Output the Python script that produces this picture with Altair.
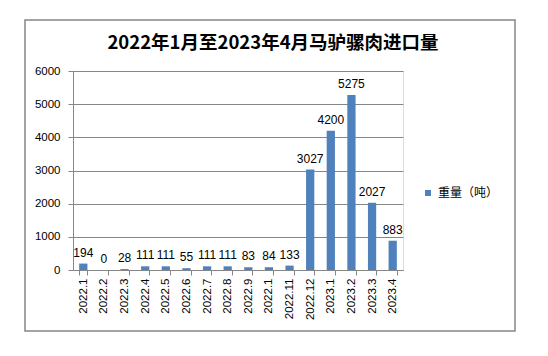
import json
import altair as alt
import pandas as pd

months = ["2022.1", "2022.2", "2022.3", "2022.4", "2022.5", "2022.6", "2022.7", "2022.8",
          "2022.9", "2022.1", "2022.11", "2022.12", "2023.1", "2023.2", "2023.3", "2023.4"]
weights = [194, 0, 28, 111, 111, 55, 111, 111, 83, 84, 133, 3027, 4200, 5275, 2027, 883]
series_name = "重量（吨）"
title_text = "2022年1月至2023年4月马驴骡肉进口量"
y_ticks = [0, 1000, 2000, 3000, 4000, 5000, 6000]

df = pd.DataFrame({"idx": list(range(len(months))), "weight": weights, "series": series_name})

label_expr = json.dumps(months) + "[datum.value]"

base = alt.Chart(df).encode(
    x=alt.X("idx:O", title=None,
            axis=alt.Axis(labelExpr=label_expr, labelAngle=270, labelFont="Liberation Sans",
                          labelFontSize=11.5, labelColor="#000", tickBand="extent",
                          tickColor="#868686", tickSize=5, domainColor="#868686",
                          labelPadding=3, grid=False),
            scale=alt.Scale(paddingInner=0.6, paddingOuter=0.3)),
    y=alt.Y("weight:Q", title=None,
            scale=alt.Scale(domain=[0, 6000], nice=False),
            axis=alt.Axis(values=y_ticks, format="d", labelOverlap=False,
                          labelFont="Liberation Sans", labelFontSize=11.5, labelColor="#000",
                          gridColor="#868686", tickColor="#868686", domainColor="#868686",
                          tickSize=5, labelPadding=8)),
)

bars = base.mark_bar(color="#4F81BD").encode(
    color=alt.Color("series:N", title=None,
                    scale=alt.Scale(range=["#4F81BD"]),
                    legend=alt.Legend(orient="none", legendX=349, legendY=116,
                                      symbolType="square", symbolSize=36,
                                      labelFont="Noto Sans CJK SC", labelFontSize=12,
                                      labelColor="#000", symbolStrokeWidth=0)),
)

labels = base.mark_text(baseline="bottom", dy=-4, font="Liberation Sans", fontSize=12,
                        color="#000").encode(
    text=alt.Text("weight:Q"),
)

border = alt.Chart(alt.Data(values=[{}])).mark_rect(filled=False, stroke="#868686",
                                                    strokeWidth=1.5).encode(
    x=alt.value(-48), x2=alt.value(442), y=alt.value(-51), y2=alt.value(260)
)

title = alt.Chart(alt.Data(values=[{"t": title_text}])).mark_text(
    font="Noto Sans CJK SC", fontSize=18.5, fontWeight="bold", color="#000",
    align="center", baseline="middle"
).encode(x=alt.value(200), y=alt.value(-28), text="t:N")

chart = alt.layer(border, title, bars, labels).properties(
    width=330, height=199,
    autosize=alt.AutoSizeParams(type="none"),
    padding={"left": 73, "top": 71, "right": 145, "bottom": 86},
).configure_view(stroke=None).configure(background="white")

chart.save("out.html", embed_options={"renderer": "svg", "actions": False})
